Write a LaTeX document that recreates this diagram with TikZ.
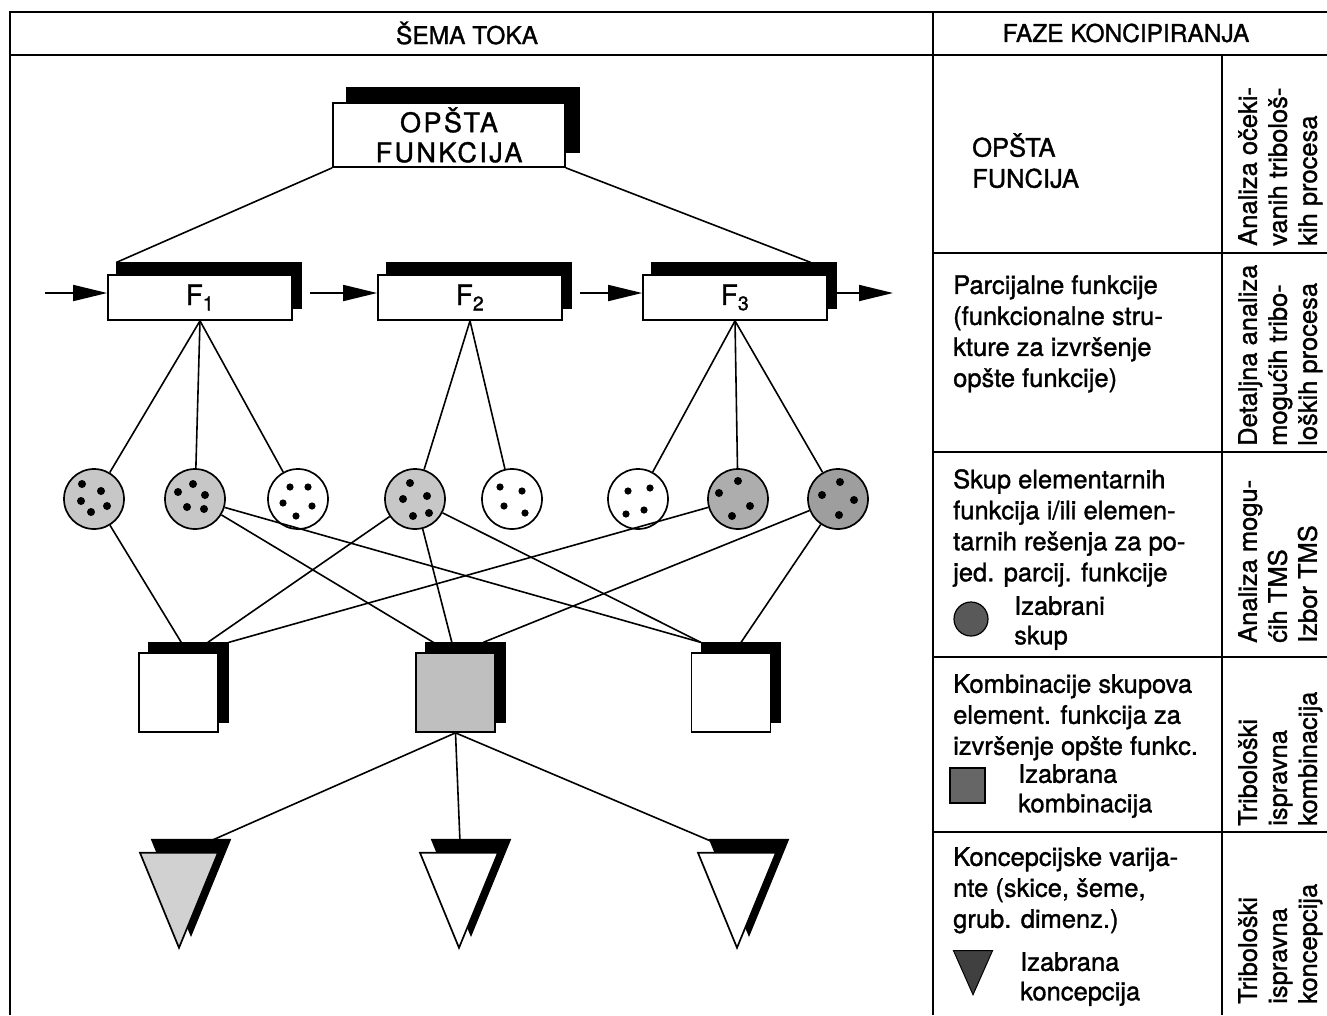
\documentclass[tikz,border=0pt]{standalone}
\usepackage{fontspec}
\setmainfont{TeX Gyre Heros}[FakeBold=1.3]
\usetikzlibrary{arrows.meta,shapes.geometric,calc}
\begin{document}
\begin{tikzpicture}[x=1pt,y=-1pt,
  every node/.style={font=\fontsize{25.5}{31}\selectfont},
  tblline/.style={line width=1.8pt},
  hdr/.style={font=\fontsize{24.5}{28}\selectfont, inner sep=0pt},
  fbx/.style={draw, line width=1.7pt, fill=white, inner sep=0pt},
  shad/.style={draw=black, fill=black, line width=1.2pt, inner sep=0pt},
  fsize/.style={minimum width=184pt, minimum height=45pt, font=\fontsize{28}{31}\selectfont},
  sqsize/.style={minimum width=79pt, minimum height=79pt},
  tri/.style={isosceles triangle, isosceles triangle stretches, minimum width=78pt, minimum height=95pt, inner sep=0pt, rotate=-90, draw, line width=1.7pt, fill=white},
  circ/.style={circle, draw, line width=1.7pt, minimum size=60pt, inner sep=0pt, fill=white},
  conn/.style={line width=1.6pt},
  arr/.style={line width=1.8pt, -{Triangle[length=34pt,width=16pt]}},
  txt/.style={align=left, anchor=north west, inner sep=0pt},
  ltxt/.style={align=left, anchor=north west, inner sep=0pt, font=\fontsize{25.5}{29.5}\selectfont},
  vtxt/.style={align=left, anchor=north west, inner sep=0pt, rotate=90, font=\fontsize{25.5}{30}\selectfont},
]
\useasboundingbox (0,0) rectangle (1327,1015);
% table frame
\draw[tblline] (10,1015) -- (10,12) -- (1327,12);
\draw[tblline] (10,55) -- (1327,55);
\draw[tblline] (933,12) -- (933,1015);
\draw[tblline] (1222,55) -- (1222,1015);
\foreach \yy in {253,452,657,832} \draw[tblline] (933,\yy) -- (1327,\yy);
% headers
\node[hdr] (h1) at (467,33) {ŠEMA TOKA};
\node[hdr] (h2) at (1126,33) {FAZE KONCIPIRANJA};
% top box
\node[shad, minimum width=232pt, minimum height=64pt] (tops) at (463,120) {};
\node[fbx, minimum width=232pt, minimum height=64pt, align=center,
      font=\fontsize{27}{30}\selectfont\addfontfeatures{LetterSpace=9}] (top) at (449,135) {OPŠTA\\FUNKCIJA};
% F boxes
\node[shad, fsize] (f1s) at (209,285.5) {};
\node[fbx, fsize] (f1) at (200,297.5) {F\textsubscript{1}};
\node[shad, fsize] (f2s) at (479,285.5) {};
\node[fbx, fsize] (f2) at (470,297.5) {F\textsubscript{2}};
\node[shad, fsize] (f3s) at (744,285.5) {};
\node[fbx, fsize] (f3) at (735,297.5) {F\textsubscript{3}};
% arrows
\coordinate (ain) at (45,293);
\coordinate (aout) at (893,293);
\draw[arr] (ain) -- (ain -| f1.west);
\draw[arr, shorten <=8pt] (f1s.east |- ain) -- (ain -| f2.west);
\draw[arr, shorten <=8pt] (f2s.east |- ain) -- (ain -| f3.west);
\draw[arr] (f3s.east |- ain) -- (aout);
% circles
\node[circ, fill=black!22] (c1) at (94,499) {};
\node[circ, fill=black!22] (c2) at (195,499) {};
\node[circ] (c3) at (298,499) {};
\node[circ, fill=black!22] (c4) at (415,499) {};
\node[circ] (c5) at (512,499) {};
\node[circ] (c6) at (638,499) {};
\node[circ, fill=black!32] (c7) at (738,499) {};
\node[circ, fill=black!38] (c8) at (838,499) {};
\foreach \dx/\dy in {-12/-15,7/-8,-13/2,13/7,-3/13} \fill ($(c1)+(\dx,\dy)$) circle (4pt);
\foreach \dx/\dy in {-2/-15,-17/-7,10/-4,-8/8,9/10} \fill ($(c2)+(\dx,\dy)$) circle (4pt);
\foreach \dx/\dy in {-8/-12,10/-12,-15/4,14/7,-2/17} \fill ($(c3)+(\dx,\dy)$) circle (3.6pt);
\foreach \dx/\dy in {-5/-16,-12/0,12/-3,-2/17,14/14} \fill ($(c4)+(\dx,\dy)$) circle (4pt);
\foreach \dx/\dy in {-12/-12,10/-8,-8/7,13/14} \fill ($(c5)+(\dx,\dy)$) circle (3.6pt);
\foreach \dx/\dy in {-10/-8,12/-11,-12/15,6/11} \fill ($(c6)+(\dx,\dy)$) circle (3.6pt);
\foreach \dx/\dy in {0/-18,-19/-6,12/7,-6/17} \fill ($(c7)+(\dx,\dy)$) circle (4pt);
\foreach \dx/\dy in {2/-17,-16/-4,16/1,1/16} \fill ($(c8)+(\dx,\dy)$) circle (4pt);
% squares
\node[shad, sqsize] (s1s) at (188.5,682.5) {};
\node[fbx, sqsize] (s1) at (178.5,692.5) {};
\node[shad, sqsize] (s2s) at (465.5,682.5) {};
\node[fbx, sqsize, fill=black!25] (s2) at (455.5,692.5) {};
\node[shad, sqsize] (s3s) at (741,682.5) {};
\node[fbx, sqsize] (s3) at (731,692.5) {};
% triangles
\node[tri, fill=black, anchor=apex] (t1s) at (191,937) {};
\node[tri, fill=black!18, anchor=apex] (t1) at (179,950) {};
\node[tri, fill=black, anchor=apex] (t2s) at (471,937) {};
\node[tri, anchor=apex] (t2) at (459,950) {};
\node[tri, fill=black, anchor=apex] (t3s) at (749,937) {};
\node[tri, anchor=apex] (t3) at (737,950) {};
% connectors
\draw[conn] (top.south west) -- (f1s.north west);
\draw[conn] (top.south east) -- ($(f3s.north west)!0.86!(f3s.north east)$);
\foreach \c in {c1,c2,c3} \draw[conn] (f1.south) -- (\c);
\foreach \c in {c4,c5} \draw[conn] (f2.south) -- (\c);
\foreach \c in {c6,c7,c8} \draw[conn] (f3.south) -- (\c);
\draw[conn] (c1) -- ($(s1s.north west)!0.41!(s1s.north east)$);
\draw[conn] (c4) -- ($(s1s.north west)!0.74!(s1s.north east)$);
\draw[conn] (c7) -- (s1s.north east);
\draw[conn] (c2) -- ($(s2s.north west)!0.1!(s2s.north east)$);
\draw[conn] (c4) -- ($(s2s.north west)!0.33!(s2s.north east)$);
\draw[conn] (c8) -- ($(s2s.north west)!0.72!(s2s.north east)$);
\draw[conn] (c2) -- (s3s.north west);
\draw[conn] (c4) -- (s3s.north west);
\draw[conn] (c8) -- (s3s.north);
\coordinate (t1in) at ($(t1s.apex)+(17,-95)$);
\coordinate (t2in) at ($(t2s.apex)+(-11,-95)$);
\coordinate (t3in) at ($(t3s.apex)+(-36,-95)$);
\draw[conn] (s2.south) -- (t1in);
\draw[conn] (s2.south) -- (t2in);
\draw[conn] (s2.south) -- (t3in);
% right column texts
\node[txt] (r1) at (972,133) {OPŠTA\\FUNCIJA};
\node[txt] (r2) at (953,275) {Parcijalne funkcije\\(funkcionalne stru-\\kture za izvršenje\\opšte funkcije)};
\node[txt] (r3) at (953,469) {Skup elementarnih\\funkcija i/ili elemen-\\tarnih rešenja za po-\\jed. parcij. funkcije};
\node[circle, draw, line width=1.2pt, fill=black!65, minimum size=34pt, inner sep=0pt] (lc) at (971,619) {};
\node[ltxt] (l3) at (1014,596) {Izabrani\\skup};
\node[txt] (r4) at (953,674) {Kombinacije skupova\\element. funkcija za\\izvršenje opšte funkc.};
\node[draw, line width=1.2pt, fill=black!60, minimum size=35pt, inner sep=0pt] (lsq) at (967.5,785.5) {};
\node[ltxt] (l4) at (1018,764) {Izabrana\\kombinacija};
\node[txt] (r5) at (953,847) {Koncepcijske varija-\\nte (skice, šeme,\\grub. dimenz.)};
\node[tri, minimum width=39pt, minimum height=44pt, line width=1pt, fill=black!75, anchor=apex] (lt) at (973,996) {};
\node[ltxt] (l5) at (1020,952) {Izabrana\\koncepcija};
% rotated phase texts
\node[vtxt] (v1) at (1238,246) {Analiza očeki-\\vanih tribološ-\\kih procesa};
\node[vtxt] (v2) at (1238,446) {Detaljna analiza\\mogućih tribo-\\loških procesa};
\node[vtxt] (v3) at (1238,643) {Analiza mogu-\\ćih TMS\\Izbor TMS};
\node[vtxt] (v4) at (1238,826) {Tribološki\\ispravna\\kombinacija};
\node[vtxt] (v5) at (1238,1004) {Tribološki\\ispravna\\koncepcija};
\end{tikzpicture}
\end{document}
